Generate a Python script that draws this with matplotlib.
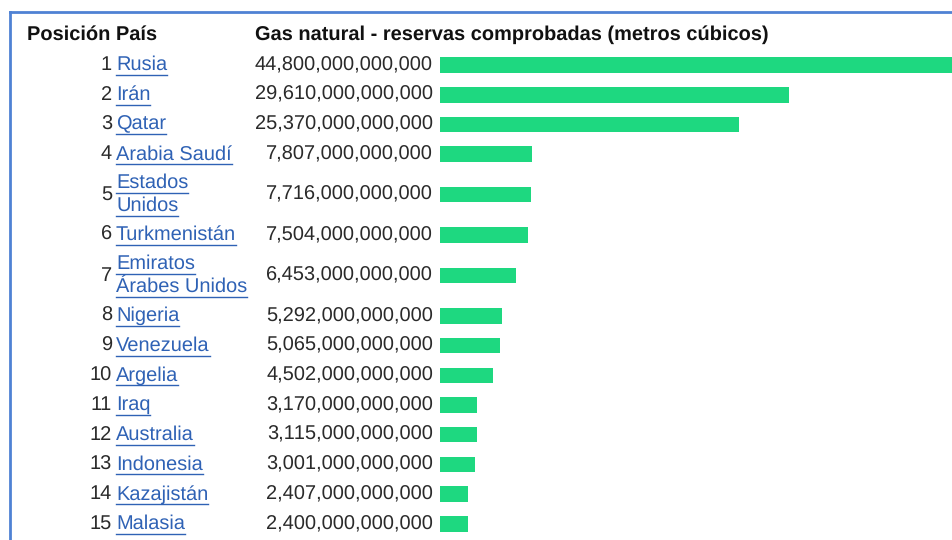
import matplotlib.pyplot as plt
from matplotlib.lines import Line2D

# Reservas comprobadas de gas natural, 15 primeros países
ranks = list(range(1, 16))
countries = ["Rusia", "Irán", "Qatar", "Arabia Saudí", "Estados\nUnidos",
             "Turkmenistán", "Emiratos\nÁrabes Unidos", "Nigeria", "Venezuela",
             "Argelia", "Iraq", "Australia", "Indonesia", "Kazajistán", "Malasia"]
reserves = [44800e9, 29610e9, 25370e9, 7807e9, 7716e9, 7504e9, 6453e9,
            5292e9, 5065e9, 4502e9, 3170e9, 3115e9, 3001e9, 2407e9, 2400e9]

W, H = 953, 540
LINK = "#2f62b5"
BAR = "#1ed880"
FONT = "Liberation Sans"
FS = 14.2

plt.rcParams["text.hinting"] = "none"
plt.rcParams["text.hinting_factor"] = 1

fig = plt.figure(figsize=(W / 100, H / 100), dpi=100)
fig.patch.set_facecolor("white")

# pixel-space axes for text and frame
tx = fig.add_axes([0, 0, 1, 1])
tx.set_xlim(0, W)
tx.set_ylim(H, 0)
tx.axis("off")

# row centres: one-line rows are shorter than two-line rows
row_y = []
y = 50.2
for name in countries:
    h = 29.7 + 21.5 * (name.count("\n"))
    row_y.append(y + h / 2)
    y += h

# bar axes: value scale starts at x=440 px
bx = fig.add_axes([440 / W, 0, (W - 440) / W, 1])
bx.set_xlim(0, (W - 440) / 11.78 * 1e12)
bx.set_ylim(H, 0)
bx.axis("off")
bx.barh(row_y, reserves, height=15.5, color=BAR, left=0)

# frame
tx.add_line(Line2D([10, 10], [12, H], color="#4f82d4", lw=2))
tx.add_line(Line2D([10, W], [12, 12], color="#4f82d4", lw=2))

tx.text(27, 35, "Posición País", fontsize=FS, fontweight="bold", family=FONT,
        color="#111111", va="center", ha="left")
tx.text(255, 35, "Gas natural - reservas comprobadas (metros cúbicos)",
        fontsize=FS, fontweight="bold", family=FONT, color="#111111",
        va="center", ha="left")

fig.canvas.draw()
renderer = fig.canvas.get_renderer()

for r, name, val, yc in zip(ranks, countries, reserves, row_y):
    tx.text(112, yc, str(r), fontsize=FS, family=FONT, color="#2a2a2a",
            va="center", ha="right")
    tx.text(433, yc, f"{val:,.0f}", fontsize=FS, family=FONT, color="#2a2a2a",
            va="center", ha="right")
    lines = name.split("\n")
    offs = [0] if len(lines) == 1 else [-11.5, 11.5]
    for line, off in zip(lines, offs):
        t = tx.text(116, yc + off, line, fontsize=FS, family=FONT, color=LINK,
                    va="center", ha="left")
        bb = t.get_window_extent(renderer)
        tx.add_line(Line2D([116, 116 + bb.width], [yc + off + 10] * 2,
                           color=LINK, lw=1.0))

fig.savefig("out.png", dpi=100)
